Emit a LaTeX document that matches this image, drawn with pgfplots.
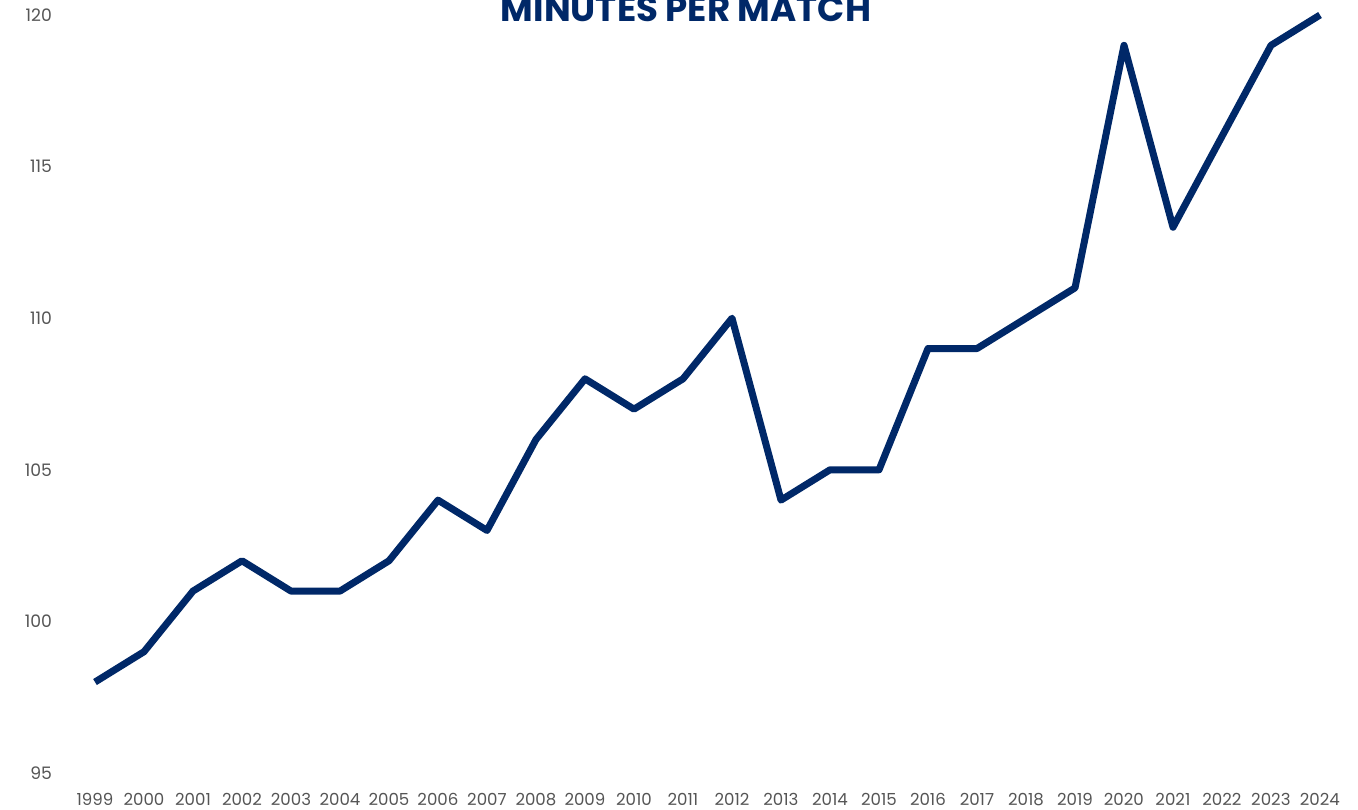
\documentclass[border=0pt]{standalone}
\usepackage{fontspec}
\setmainfont{Poppins}
\usepackage{pgfplots}
\pgfplotsset{compat=1.18}
\definecolor{navy}{RGB}{0,40,104}
\definecolor{tickgray}{RGB}{85,85,85}
\begin{document}
\begin{tikzpicture}
\useasboundingbox (0,0) rectangle (679pt,404.5pt);
\begin{axis}[
  at={(47.5pt,18pt)}, anchor=south west,
  scale only axis, width=612.5pt, height=379pt,
  xmin=1999, xmax=2024, ymin=95, ymax=120,
  axis line style={draw=none},
  major tick length=0pt,
  xtick={1999,...,2024},
  ytick={95,100,...,120},
  xticklabel style={font=\fontsize{8.3}{9}\selectfont, text=tickgray, yshift=-6.5pt},
  yticklabel style={font=\fontsize{8.6}{9}\selectfont, text=tickgray, xshift=-18pt},
  /pgf/number format/assume math mode=true,
  xticklabel={\pgfmathprintnumber[1000 sep={}]{\tick}},
  clip=false,
]
\addplot[navy, line width=3.5pt, line join=round] coordinates {
(1999,98) (2000,99) (2001,101) (2002,102) (2003,101) (2004,101) (2005,102)
(2006,104) (2007,103) (2008,106) (2009,108) (2010,107) (2011,108) (2012,110)
(2013,104) (2014,105) (2015,105) (2016,109) (2017,109) (2018,110) (2019,111)
(2020,119) (2021,113) (2022,116) (2023,119) (2024,120)};
\end{axis}
\node[anchor=base, text=navy, font=\fontsize{17.8}{20}\bfseries\selectfont] at (343pt,393.5pt) {MINUTES PER MATCH};
\end{tikzpicture}
\end{document}
